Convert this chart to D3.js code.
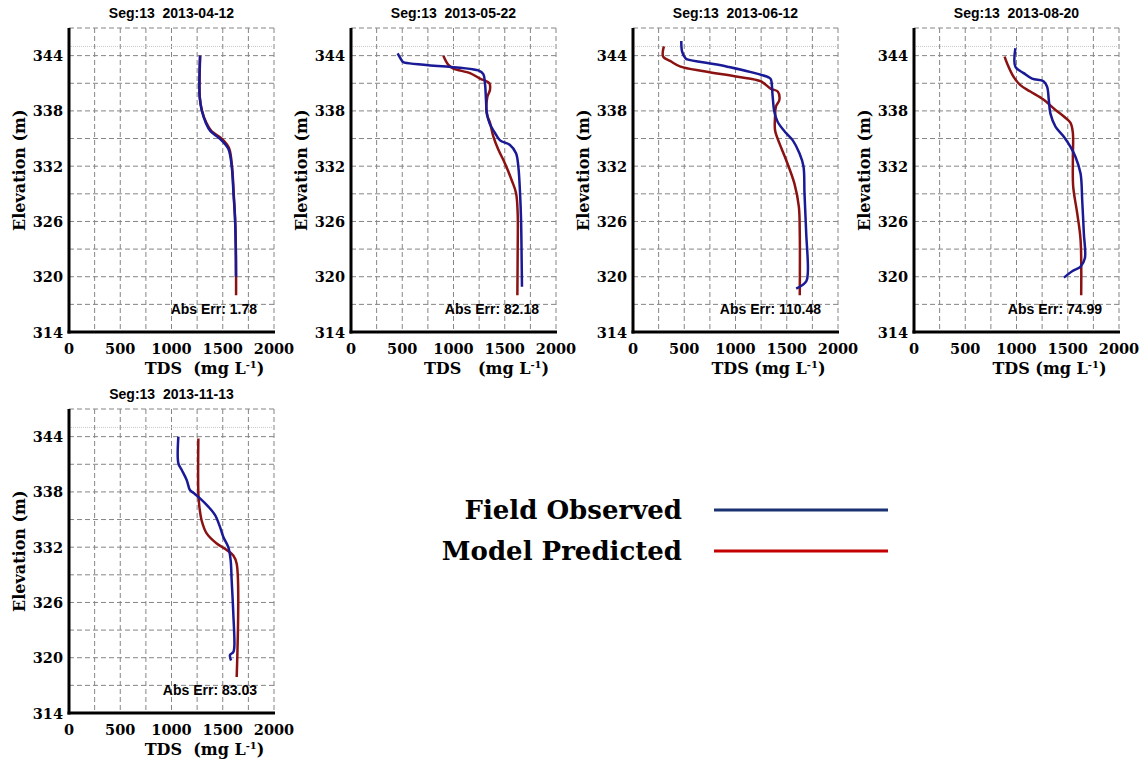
<!DOCTYPE html>
<html>
<head>
<meta charset="utf-8">
<script src="https://cdn.jsdelivr.net/npm/d3@7"></script>
<style>
  body { margin: 0; background: #fff; }
  svg text { fill: #000; white-space: pre; }
  .tick-label { font-family: "DejaVu Serif", serif; font-weight: bold; font-size: 14.5px; }
  .axis-title { font-family: "DejaVu Serif", serif; font-weight: bold; font-size: 16px; }
  .panel-title, .abs-err { font-family: "Liberation Sans", Arial, sans-serif; font-weight: bold; font-size: 14px; }
  .legend-label { font-family: "DejaVu Serif", serif; font-weight: bold; font-size: 26px; }
</style>
</head>
<body>
<svg id="chart" width="1147" height="766"></svg>
<script>
// Sampling dates and error scores
const dates = ['2013-04-12', '2013-05-22', '2013-06-12', '2013-08-20', '2013-11-13'];
const absErr = ['1.78', '82.18', '110.48', '74.99', '83.03'];
const xTitles = ['TDS  (mg L', 'TDS   (mg L', 'TDS (mg L', 'TDS (mg L', 'TDS  (mg L'];

// Profiles: [elevation (m), TDS (mg/L)]
const obs_0412 = [[344, 1278], [341, 1272], [339.5, 1275], [338.1, 1294], [336.7, 1335], [335.8, 1380],
  [335.0, 1470], [333.9, 1554], [332, 1587], [329, 1605], [326.2, 1620], [323, 1627], [320, 1629]];
const mod_0412 = [[344, 1280], [341, 1273], [339.5, 1276], [338.1, 1296], [336.7, 1340], [335.8, 1390],
  [335.0, 1490], [334.0, 1560], [332, 1590], [329, 1607], [326.2, 1621], [323, 1628], [320, 1630], [318, 1630]];

const obs_0522 = [[344.25, 455], [343.5, 494], [343.3, 510], [342.4, 1242], [342.0, 1291], [341.0, 1307],
  [339.2, 1317], [337.9, 1324], [336.7, 1350], [335.6, 1405], [334.8, 1454], [334.3, 1551], [333.4, 1610],
  [331.9, 1633], [329.1, 1649], [326.2, 1659], [321.8, 1665], [318.9, 1668]];
const mod_0522 = [[344.0, 901], [343.0, 950], [342.6, 999], [342.1, 1161], [341.5, 1259], [341.0, 1350],
  [340.3, 1356], [339.5, 1330], [337.7, 1324], [336.7, 1356], [335.2, 1389], [333.8, 1437], [332.3, 1502],
  [330.5, 1567], [329.1, 1610], [326.9, 1626], [322.5, 1626], [318.0, 1623]];

const obs_0612 = [[345.6, 471], [344.4, 480], [343.7, 513], [343.6, 529], [342.8, 921], [341.6, 1330],
  [341.4, 1346], [339.5, 1363], [337.9, 1379], [336.8, 1412], [335.6, 1493], [334.8, 1559], [333.4, 1624],
  [332.0, 1663], [329.1, 1673], [324.7, 1690], [320.6, 1706], [319.5, 1690], [318.7, 1592]];
const mod_0612 = [[345.0, 301], [343.9, 294], [343.4, 366], [342.8, 464], [342.3, 693], [341.7, 1020],
  [341.2, 1248], [340.4, 1346], [340.1, 1412], [339.2, 1428], [338.5, 1395], [337.4, 1386], [335.9, 1386],
  [334.5, 1428], [332.7, 1493], [330.1, 1575], [327.6, 1618], [324.7, 1627], [318.0, 1627]];

const obs_0820 = [[344.8, 989], [342.8, 989], [342.1, 1070], [341.5, 1152], [341.2, 1266], [340.6, 1299],
  [339.2, 1315], [337.7, 1331], [336.3, 1380], [335.2, 1462], [334.1, 1527], [333.0, 1576], [331.2, 1625],
  [328.3, 1641], [324.7, 1657], [322.0, 1667], [321.1, 1625], [320.6, 1543], [319.9, 1462]];
const mod_0820 = [[343.9, 884], [343.2, 907], [341.7, 972], [340.8, 1038], [340.1, 1135], [339.2, 1266],
  [338.1, 1380], [337.4, 1462], [336.7, 1527], [335.6, 1550], [333.0, 1550], [329.8, 1553], [326.9, 1592],
  [324.0, 1625], [318.0, 1631]];

const obs_1113 = [[344.0, 1067], [341.1, 1067], [340.4, 1099], [339.3, 1148], [338.2, 1180], [337.9, 1213],
  [337.3, 1278], [336.4, 1359], [335.5, 1424], [334.2, 1473], [333.1, 1506], [332.0, 1554], [330.6, 1577],
  [328.4, 1587], [324.8, 1603], [321.2, 1613], [320.6, 1603], [320.3, 1571], [319.7, 1581]];
const mod_1113 = [[343.8, 1262], [337.8, 1262], [336.4, 1272], [334.9, 1294], [333.5, 1343], [332.4, 1441],
  [331.7, 1538], [331.1, 1603], [330.2, 1636], [317.9, 1636]];

const observed = [obs_0412, obs_0522, obs_0612, obs_0820, obs_1113];
const predicted = [mod_0412, mod_0522, mod_0612, mod_0820, mod_1113];

const xTicks = [0, 500, 1000, 1500, 2000];
const yTicks = [314, 320, 326, 332, 338, 344];
const surfaceElev = 345;

const legendLabels = ['Field Observed', 'Model Predicted'];

// Layout
const plotW = 205, plotH = 304;
const origins = [[69, 28], [351, 28], [633, 28], [914, 28], [69, 409]];
const obsColor = '#1a1a96', modColor = '#8b1212';
const legendColors = ['#1b3272', '#c40000'];

const svg = d3.select('#chart');

const x = d3.scaleLinear().domain([0, 2000]).range([0, plotW]);
const y = d3.scaleLinear().domain([314, 347]).range([plotH, 0]);

const line = d3.line()
    .x(d => x(d[1]))
    .y(d => y(d[0]))
    .curve(d3.curveCatmullRom.alpha(0.5));

dates.forEach((date, i) => {
    const [ox, oy] = origins[i];
    const g = svg.append('g').attr('transform', `translate(${ox},${oy})`);

    // Dashed grid
    g.append('g').selectAll('line')
        .data(d3.range(250, 2001, 250))
        .join('line')
        .attr('x1', d => x(d)).attr('x2', d => x(d))
        .attr('y1', 0).attr('y2', plotH)
        .attr('stroke', '#858585').attr('stroke-width', 1)
        .attr('stroke-dasharray', '5,3');

    g.append('g').selectAll('line')
        .data(d3.range(317, 348, 3))
        .join('line')
        .attr('x1', 0).attr('x2', plotW)
        .attr('y1', d => y(d)).attr('y2', d => y(d))
        .attr('stroke', '#858585').attr('stroke-width', 1)
        .attr('stroke-dasharray', '5,3');

    // Water surface
    g.append('line')
        .attr('x1', 0).attr('x2', plotW)
        .attr('y1', y(surfaceElev)).attr('y2', y(surfaceElev))
        .attr('stroke', '#c8c8c8').attr('stroke-width', 1)
        .attr('stroke-dasharray', '1,1');

    // Profiles
    g.append('path')
        .datum(predicted[i])
        .attr('fill', 'none')
        .attr('stroke', modColor)
        .attr('stroke-width', 2.5)
        .attr('d', line);

    g.append('path')
        .datum(observed[i])
        .attr('fill', 'none')
        .attr('stroke', obsColor)
        .attr('stroke-width', 2.5)
        .attr('d', line);

    // Axes
    g.append('line')
        .attr('x1', 0).attr('x2', 0)
        .attr('y1', 0).attr('y2', plotH + 1.5)
        .attr('stroke', '#000').attr('stroke-width', 3);
    g.append('line')
        .attr('x1', -1.5).attr('x2', plotW + 1)
        .attr('y1', plotH).attr('y2', plotH)
        .attr('stroke', '#000').attr('stroke-width', 3);

    g.append('g').selectAll('text')
        .data(xTicks)
        .join('text')
        .attr('class', 'tick-label')
        .attr('x', d => x(d))
        .attr('y', plotH + 22)
        .attr('text-anchor', 'middle')
        .text(d => d);

    g.append('g').selectAll('text')
        .data(yTicks)
        .join('text')
        .attr('class', 'tick-label')
        .attr('x', -6)
        .attr('y', d => y(d) + 5.5)
        .attr('text-anchor', 'end')
        .text(d => d);

    // Axis titles
    const xt = g.append('text')
        .attr('class', 'axis-title')
        .attr('x', plotW / 2 + 33)
        .attr('y', plotH + 42)
        .attr('text-anchor', 'middle');
    xt.append('tspan').text(xTitles[i]);
    xt.append('tspan').attr('font-size', '10px').attr('dy', -6).text('-1');
    xt.append('tspan').attr('dy', 6).text(')');

    g.append('text')
        .attr('class', 'axis-title')
        .attr('transform', 'rotate(-90)')
        .attr('x', -(y(332) + 4))
        .attr('y', -44)
        .attr('text-anchor', 'middle')
        .text('Elevation (m)');

    g.append('text')
        .attr('class', 'panel-title')
        .attr('x', plotW / 2)
        .attr('y', -10)
        .attr('text-anchor', 'middle')
        .text(`Seg:13  ${date}`);

    g.append('text')
        .attr('class', 'abs-err')
        .attr('x', plotW - 17)
        .attr('y', y(316))
        .attr('text-anchor', 'end')
        .text(`Abs Err: ${absErr[i]}`);
});

// Legend
const legend = svg.append('g');
legendLabels.forEach((label, i) => {
    const ly = 510 + i * 41;
    legend.append('text')
        .attr('class', 'legend-label')
        .attr('x', 682)
        .attr('y', ly + 9)
        .attr('text-anchor', 'end')
        .text(label);
    legend.append('line')
        .attr('x1', 714).attr('x2', 888)
        .attr('y1', ly).attr('y2', ly)
        .attr('stroke', legendColors[i])
        .attr('stroke-width', 3);
});
</script>
</body>
</html>
